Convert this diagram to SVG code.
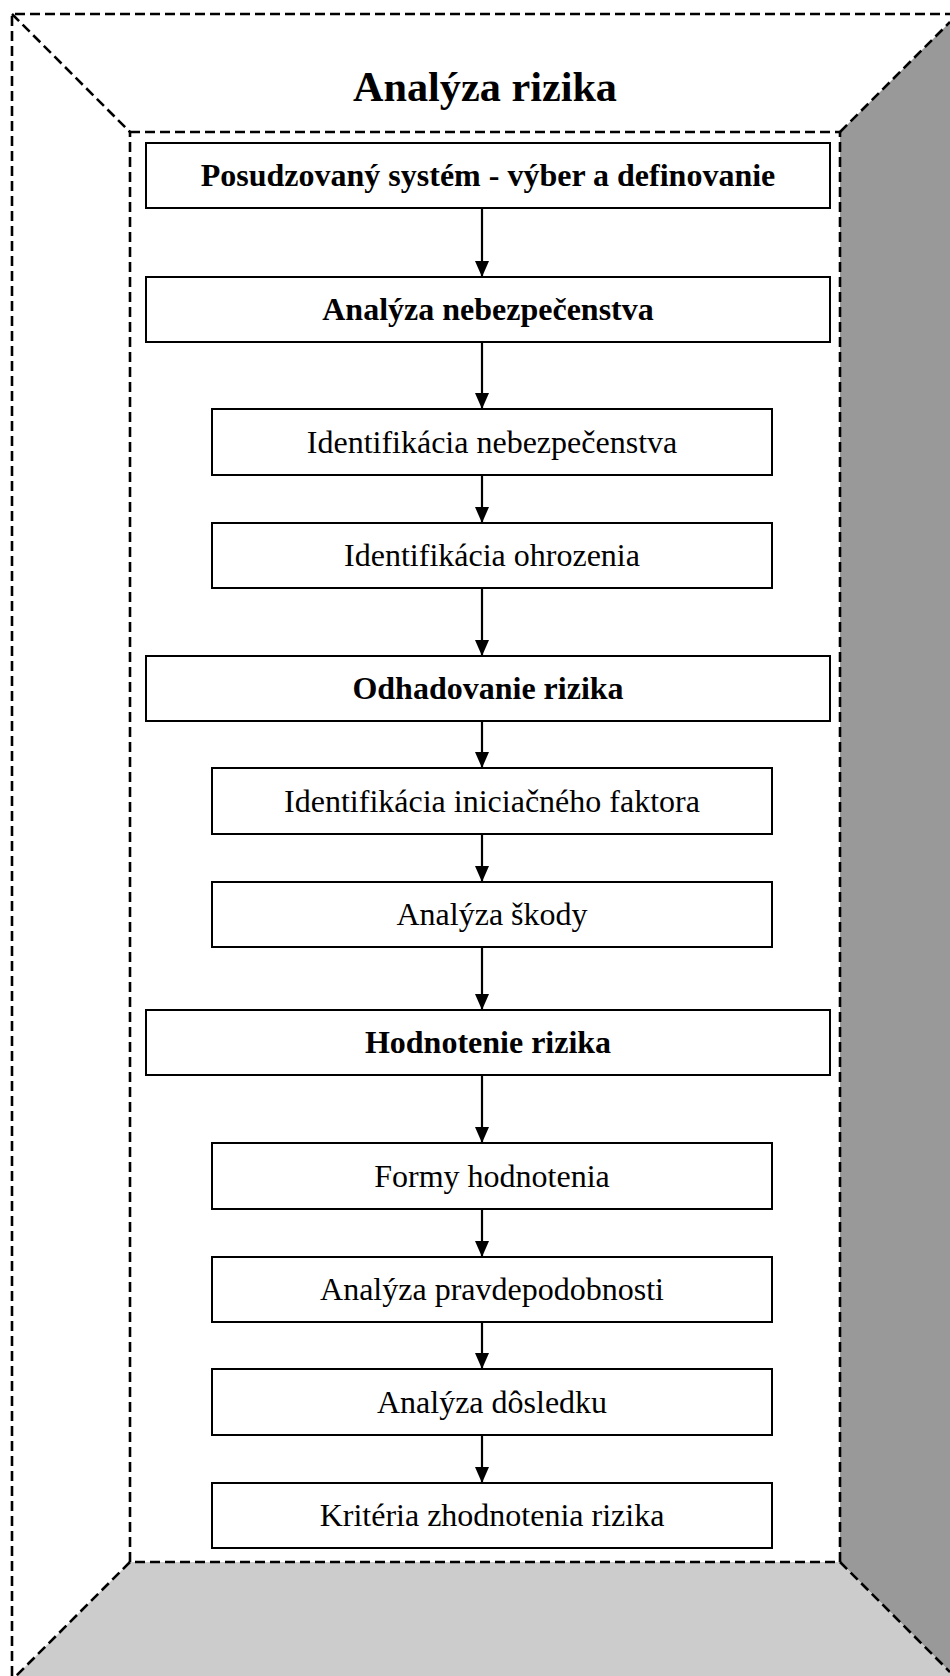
<svg xmlns="http://www.w3.org/2000/svg" width="950" height="1676" viewBox="0 0 950 1676">
<style>
.dash{fill:none;stroke:#000;stroke-width:2.6;stroke-dasharray:10 5}
.box{fill:#fff;stroke:#000;stroke-width:2}
.t{font-family:"Liberation Serif","Times New Roman",serif;font-size:32px;text-anchor:middle;fill:#000}
.b{font-weight:bold}
.c{stroke:#000;stroke-width:2.2;fill:none;marker-end:url(#ah)}
</style>
<defs>
<marker id="ah" markerWidth="17" markerHeight="15" refX="16" refY="7.5" orient="auto" markerUnits="userSpaceOnUse" viewBox="0 0 17 15">
<path d="M0,0.5 L16,7.5 L0,14.5 Z" fill="#000"/>
</marker>
</defs>
<rect width="950" height="1676" fill="#fff"/>
<g id="frame">
<polygon points="840,132 950,22 950,1672 840,1562" fill="#999"/>
<polygon points="130,1562 840,1562 950,1672 950,1676 16,1676" fill="#ccc"/>
<path class="dash" d="M12,1676 L12,14 L950,14"/>
<rect class="dash" x="130" y="132" width="710" height="1430"/>
<path class="dash" d="M12,14 L130,132 M840,132 L950,22 M130,1562 L16,1676 M840,1562 L950,1672"/>
<text class="t b" x="485" y="101" style="font-size:42px" textLength="264" lengthAdjust="spacingAndGlyphs">Analýza rizika</text>
</g>
<g id="connectors">
<line class="c" x1="482" y1="208" x2="482" y2="277"/>
<line class="c" x1="482" y1="342" x2="482" y2="409"/>
<line class="c" x1="482" y1="475" x2="482" y2="523"/>
<line class="c" x1="482" y1="588" x2="482" y2="656"/>
<line class="c" x1="482" y1="721" x2="482" y2="768"/>
<line class="c" x1="482" y1="834" x2="482" y2="882"/>
<line class="c" x1="482" y1="947" x2="482" y2="1010"/>
<line class="c" x1="482" y1="1075" x2="482" y2="1143"/>
<line class="c" x1="482" y1="1209" x2="482" y2="1257"/>
<line class="c" x1="482" y1="1322" x2="482" y2="1369"/>
<line class="c" x1="482" y1="1435" x2="482" y2="1483"/>
</g>
<g id="n1"><rect class="box" x="146" y="143" width="684" height="65"/><text class="t b" x="488" y="186">Posudzovaný systém - výber a definovanie</text></g>
<g id="n2"><rect class="box" x="146" y="277" width="684" height="65"/><text class="t b" x="488" y="320">Analýza nebezpečenstva</text></g>
<g id="n3"><rect class="box" x="212" y="409" width="560" height="66"/><text class="t" x="492" y="453">Identifikácia nebezpečenstva</text></g>
<g id="n4"><rect class="box" x="212" y="523" width="560" height="65"/><text class="t" x="492" y="566">Identifikácia ohrozenia</text></g>
<g id="n5"><rect class="box" x="146" y="656" width="684" height="65"/><text class="t b" x="488" y="699">Odhadovanie rizika</text></g>
<g id="n6"><rect class="box" x="212" y="768" width="560" height="66"/><text class="t" x="492" y="812">Identifikácia iniciačného faktora</text></g>
<g id="n7"><rect class="box" x="212" y="882" width="560" height="65"/><text class="t" x="492" y="925">Analýza škody</text></g>
<g id="n8"><rect class="box" x="146" y="1010" width="684" height="65"/><text class="t b" x="488" y="1053">Hodnotenie rizika</text></g>
<g id="n9"><rect class="box" x="212" y="1143" width="560" height="66"/><text class="t" x="492" y="1187">Formy hodnotenia</text></g>
<g id="n10"><rect class="box" x="212" y="1257" width="560" height="65"/><text class="t" x="492" y="1300">Analýza pravdepodobnosti</text></g>
<g id="n11"><rect class="box" x="212" y="1369" width="560" height="66"/><text class="t" x="492" y="1413">Analýza dôsledku</text></g>
<g id="n12"><rect class="box" x="212" y="1483" width="560" height="65"/><text class="t" x="492" y="1526">Kritéria zhodnotenia rizika</text></g>
</svg>
